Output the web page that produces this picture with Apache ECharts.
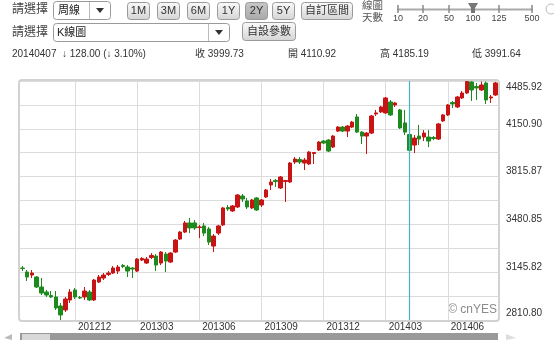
<!DOCTYPE html>
<html><head><meta charset="utf-8">
<script src="https://cdn.jsdelivr.net/npm/echarts@6/dist/echarts.min.js"></script>
<style>html,body{margin:0;padding:0;background:#fff}#c{width:554px;height:340px}</style>
</head><body><div id="c"></div>
<script>
// ---- data (weekly K-line, Taiwan colours: red = up, green = down) ----
const startWeek = '2012-09-17';
const opens = [3175,3147,3126,3112,3042,3007,2982,2972,2909,2881, 2951,3021,2968,2972,3007,2951,3077,3105,3130,3140,
  3154,3193,3182,3175,3154,3231,3210,3249,3259,3210, 3273,3217,3287,3378,3427,3491,3491,3459,3470,3449,
  3329,3420,3477,3599,3575,3603,3680,3645,3596,3666, 3617,3673,3757,3789,3736,3781,3778,3918,3936,3911,
  3904,3978,4002,4065,4072,4023,4135,4163,4135,4163, 4234,4128,4100,4121,4255,4269,4262,4339,4318,4283,
  4192,4110.92,4037,4100,4093,4093,4090,4079,4206,4248, 4335,4304,4367,4402,4479,4447,4423,4472,4367,4388];
const closes = [3172,3112,3140,3042,3000,2986,2972,2895,2846,2958, 3007,2972,2965,3014,2951,3091,3112,3126,3140,3175,
  3182,3186,3154,3168,3238,3242,3238,3263,3196,3287, 3224,3280,3371,3427,3491,3456,3456,3463,3420,3357,
  3399,3470,3596,3589,3610,3687,3659,3603,3652,3582, 3652,3722,3778,3781,3813,3789,3911,3939,3918,3932,
  3988,3985,4058,4051,3995,4100,4163,4135,4170,4198, 4128,4100,4121,4241,4262,4304,4367,4248,4332,4157,
  4127.73,3999.73,4086,4079,4121,4065,4083,4185,4248,4318, 4325,4374,4402,4482,4423,4437,4458,4353,4374,4472];
const lows = [3154,3084,3105,3035,2986,2972,2965,2881,2810.8,2867, 2930,2958,2958,2951,2944,2944,3070,3091,3119,3133,
  3133,3175,3112,3105,3147,3224,3203,3238,3154,3196, 3147,3210,3280,3371,3420,3420,3442,3385,3399,3336,
  3287,3406,3470,3575,3568,3596,3638,3589,3589,3575, 3603,3666,3722,3743,3729,3638,3771,3904,3904,3862,
  3897,3904,3995,4044,3988,4016,4128,4128,4093,4156, 4121,4044,3974,4114,4241,4262,4255,4241,4304,4150,
  4107,3991.64,3981,4037,4065,4023,4072,4072,4199,4241, 4297,4297,4360,4395,4346,4353,4416,4325,4332,4381];
const highs = [3189,3161,3161,3119,3105,3021,3014,3014,2930,2972, 3028,3035,2979,3042,3021,3098,3126,3140,3154,3189,
  3196,3203,3196,3182,3245,3252,3252,3280,3273,3294, 3287,3287,3378,3434,3505,3526,3512,3477,3491,3463,
  3413,3477,3603,3617,3617,3694,3694,3666,3659,3673, 3659,3729,3799,3799,3820,3792,3918,3953,3953,3946,
  3995,3988,4065,4072,4079,4107,4170,4170,4177,4206, 4255,4135,4128,4248,4283,4311,4374,4353,4339,4290,
  4283,4185.19,4107,4178,4142,4142,4100,4192,4255,4325, 4346,4381,4416,4485.92,4484,4472,4482,4482,4388,4480];
const yTickLabels = ['2810.80','3145.82','3480.85','3815.87','4150.90','4485.92'];
const crossDate = '2014-04-07';
const quarterMonths = [3,6,9,12];
// header texts
const infoDate = '20140407', infoChange = '↓ 128.00 (↓ 3.10%)';
const infoClose = '收 3999.73', infoOpen = '開 4110.92', infoHigh = '高 4185.19', infoLow = '低 3991.64';
const rangeButtons = ['1M','3M','6M','1Y','2Y','5Y'];
const sliderTicks = ['10','20','50','100','125','500'];

// ---- build ----
const dates = [];
{ const d0 = new Date(startWeek + 'T00:00:00Z');
  for (let i = 0; i < opens.length; i++) {
    const d = new Date(d0.getTime() + i * 7 * 86400000);
    dates.push(d.toISOString().slice(0, 10));
  } }
const kdata = opens.map((o, i) => [o, closes[i], lows[i], highs[i]]);
const isQuarterStart = (v) => { const m = +v.slice(5, 7), d = +v.slice(8, 10); return d <= 7 && quarterMonths.includes(m); };
const yMin = parseFloat(yTickLabels[0]), yMax = parseFloat(yTickLabels[yTickLabels.length - 1]);
const yStep = (yMax - yMin) / ((yTickLabels.length - 1) * 2);

const FF = '"Liberation Sans","Noto Sans CJK TC",sans-serif';
const RED = '#c81414', GREEN = '#1d8a1d', CROSS = '#45b5c9';
const G = [];
const txt = (x, y, t, size, color, align) => G.push({type:'text', silent:true, style:{x, y, text:t, fill:color||'#333', fontSize:size||11, fontFamily:FF, align:align||'left', verticalAlign:'middle'}});
const btnFill = {type:'linear', x:0, y:0, x2:0, y2:1, colorStops:[{offset:0,color:'#fbfbfb'},{offset:1,color:'#d4d4d4'}]};
const btnDark = {type:'linear', x:0, y:0, x2:0, y2:1, colorStops:[{offset:0,color:'#c8c8c8'},{offset:1,color:'#a8a8a8'}]};
const box = (x, y, w, h, fill, stroke) => G.push({type:'rect', silent:true, shape:{x, y, width:w, height:h, r:3}, style:{fill:fill, stroke:stroke||'#9a9a9a', lineWidth:1}});

// row 1
txt(12, 10, '請選擇', 12, '#444');
box(53.5, 1.5, 57, 18, '#fff');
G.push({type:'line', silent:true, shape:{x1:89.5, y1:2, x2:89.5, y2:19}, style:{stroke:'#bbb'}});
G.push({type:'polygon', silent:true, shape:{points:[[96,8],[104,8],[100,13]]}, style:{fill:'#333'}});
txt(58, 10.5, '周線', 11, '#222');
const bx = [127, 157, 187, 217, 245, 272];
rangeButtons.forEach((b, i) => { box(bx[i] + 0.5, 2.5, 22, 17, b === '2Y' ? btnDark : btnFill); txt(bx[i] + 11.5, 11, b, 11, '#333', 'center'); });
box(301.5, 2.5, 51, 17, btnFill); txt(327, 11, '自訂區間', 11, '#333', 'center');
txt(362, 6.5, '線圖', 10.5, '#555'); txt(362, 18, '天數', 10.5, '#555');
G.push({type:'line', silent:true, shape:{x1:397, y1:9.5, x2:533, y2:9.5}, style:{stroke:'#aaa', lineWidth:2}});
const sx = [398, 423, 449, 473, 499, 532];
sliderTicks.forEach((t, i) => { G.push({type:'line', silent:true, shape:{x1:sx[i], y1:5, x2:sx[i], y2:13}, style:{stroke:'#888', lineWidth:1.5}}); txt(sx[i], 19, t, 9, '#444', 'center'); });
G.push({type:'polygon', silent:true, shape:{points:[[468,3],[478,3],[475,8],[475,13],[471,13],[471,8]]}, style:{fill:'#777'}});
G.push({type:'circle', silent:true, shape:{cx:551, cy:9, r:5}, style:{fill:'#fff', stroke:'#bbb'}});
// row 2
txt(12, 33, '請選擇', 12, '#444');
box(53.5, 23.5, 176, 18, '#fff');
G.push({type:'line', silent:true, shape:{x1:208.5, y1:24, x2:208.5, y2:41}, style:{stroke:'#bbb'}});
G.push({type:'polygon', silent:true, shape:{points:[[215,30],[223,30],[219,35]]}, style:{fill:'#333'}});
txt(57, 32.5, 'K線圖', 11, '#222');
box(242.5, 22.5, 53, 18, btnFill); txt(269, 32, '自設參數', 11, '#333', 'center');
// row 3
txt(12, 54, infoDate, 10, '#333');
txt(62, 54, infoChange, 10, '#333');
txt(195, 54, infoClose, 10, '#333');
txt(288, 54, infoOpen, 10, '#333');
txt(380, 54, infoHigh, 10, '#333');
txt(472, 54, infoLow, 10, '#333');
// plot frame
G.push({type:'rect', silent:true, z:100, shape:{x:19, y:80, width:480, height:241, r:3}, style:{fill:'none', stroke:'#d2d2d2', lineWidth:2}});
// watermark
txt(497, 310, '© cnYES', 12, '#8a8a8a', 'right');
// bottom scrollbar
G.push({type:'rect', silent:true, shape:{x:20, y:333, width:478, height:7}, style:{fill:'#999'}});
G.push({type:'rect', silent:true, shape:{x:22, y:334, width:28, height:6}, style:{fill:'#d8d8d8'}});
G.push({type:'polygon', silent:true, shape:{points:[[4,338],[12,334],[12,340]]}, style:{fill:'#bbb'}});
G.push({type:'polygon', silent:true, shape:{points:[[516,338],[506,334],[506,340]]}, style:{fill:'#ddd'}});

const chart = echarts.init(document.getElementById('c'), null, {renderer:'canvas'});
chart.setOption({
  animation: false,
  backgroundColor: '#fff',
  grid: {left: 20, top: 81, width: 478, height: 239, show: false},
  xAxis: {
    type: 'category', data: dates, boundaryGap: true,
    axisLine: {show: false}, axisTick: {show: false},
    axisLabel: {interval: (i, v) => isQuarterStart(v), formatter: v => v.slice(0, 4) + v.slice(5, 7),
      align: 'left', padding: [0, 0, 0, 3], margin: 2, fontSize: 10, color: '#333', fontFamily: FF},
    splitLine: {show: true, alignWithLabel: true, interval: (i, v) => isQuarterStart(v), lineStyle: {color: '#dcdcdc', width: 1}}
  },
  yAxis: {
    type: 'value', position: 'right', min: yMin, max: yMax, interval: yStep, scale: true,
    axisLine: {show: false}, axisTick: {show: false},
    splitLine: {show: true, lineStyle: {color: '#dcdcdc', width: 1}},
    axisLabel: {margin: 8, fontSize: 10, color: '#333', fontFamily: FF, showMinLabel: true, showMaxLabel: true,
      formatter: v => { const k = Math.round((v - yMin) / yStep); if (k % 2) return ''; const s = yTickLabels[k / 2];
        if (k === 0) return '{b|' + s + '}'; if (k === (yTickLabels.length - 1) * 2) return '{t|' + s + '}'; return '{m|' + s + '}'; },
      rich: {m: {padding: [0, 0, 10, 0], fontSize: 10, fontFamily: FF, color: '#333'},
             t: {padding: [12, 0, 0, 0], fontSize: 10, fontFamily: FF, color: '#333'},
             b: {padding: [0, 0, 14, 0], fontSize: 10, fontFamily: FF, color: '#333'}}}
  },
  series: [{
    type: 'candlestick', data: kdata, barWidth: 4,
    itemStyle: {color: RED, color0: GREEN, borderColor: RED, borderColor0: GREEN, borderWidth: 1},
    markLine: {silent: true, symbol: ['none', 'none'], label: {show: false}, animation: false,
      itemStyle: {color: CROSS},
      lineStyle: {color: CROSS, width: 1.2, type: 'solid', opacity: 1},
      emphasis: {disabled: true},
      data: [{xAxis: crossDate, lineStyle: {color: CROSS, width: 1.2, type: 'solid'}, itemStyle: {color: CROSS}}]}
  }],
  graphic: G
});
</script></body></html>
